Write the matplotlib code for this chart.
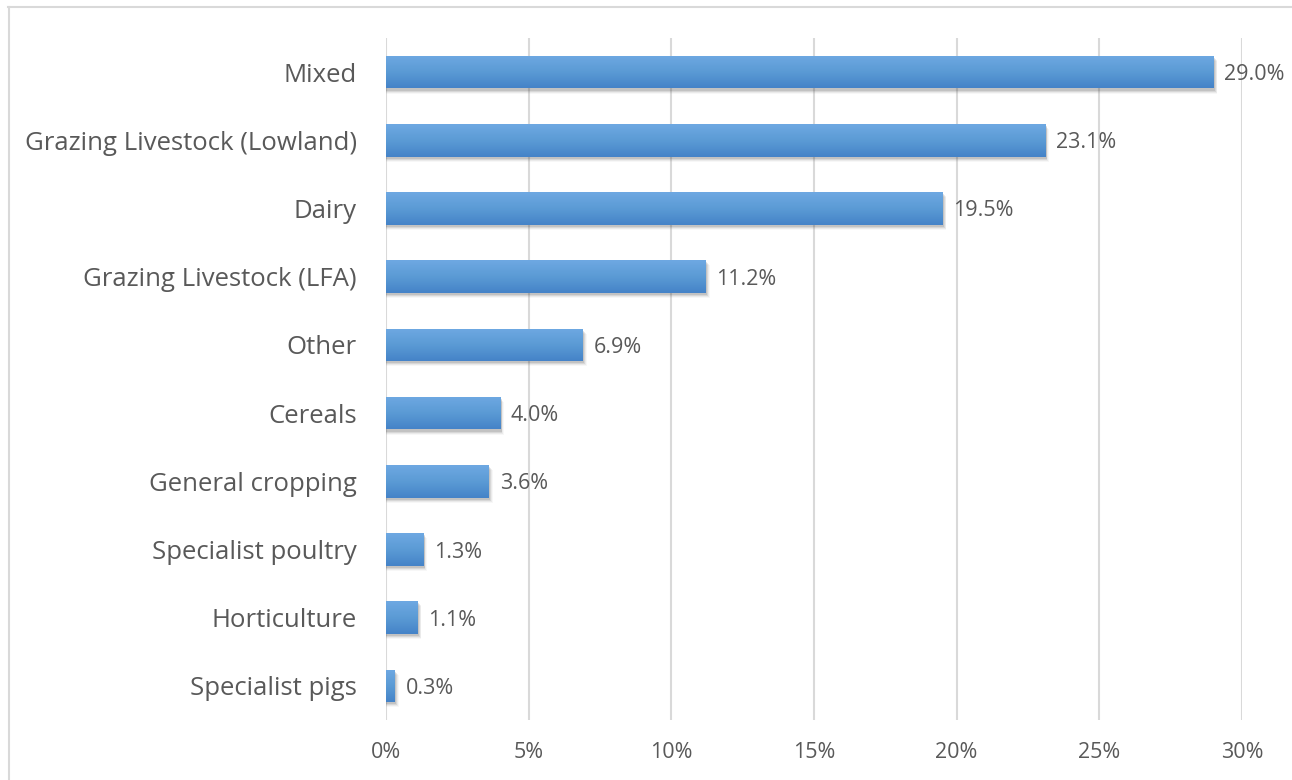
import numpy as np
import matplotlib.pyplot as plt
from matplotlib.colors import LinearSegmentedColormap
from matplotlib.lines import Line2D
from matplotlib.ticker import FuncFormatter

# farm type shares (percent of holdings)
categories = ['Mixed', 'Grazing Livestock (Lowland)', 'Dairy', 'Grazing Livestock (LFA)',
              'Other', 'Cereals', 'General cropping', 'Specialist poultry',
              'Horticulture', 'Specialist pigs']
shares = [29.0, 23.1, 19.5, 11.2, 6.9, 4.0, 3.6, 1.3, 1.1, 0.3]
xticks = [0, 5, 10, 15, 20, 25, 30]

plt.rcParams['font.family'] = ['Open Sans', 'DejaVu Sans']
txt = '#595959'

fig = plt.figure(figsize=(12.92, 7.8), dpi=100)
ax = fig.add_axes([386 / 1292, 1 - 720 / 780, (1242 - 386) / 1292, (720 - 38) / 780])

# chart frame (runs off the right and bottom edges)
fig.add_artist(Line2D([8 / 1292, 1.0], [1 - 7 / 780] * 2, color='#d9d9d9', lw=1.5))
fig.add_artist(Line2D([9 / 1292] * 2, [0.0, 1 - 7 / 780], color='#d9d9d9', lw=1.5))

ypos = np.arange(len(categories))
h = 0.48

grad = LinearSegmentedColormap.from_list('bar', ['#6ea8e2', '#5b9bd5', '#4583c8'])
gimg = np.linspace(0, 1, 64).reshape(-1, 1)

for y, v in zip(ypos, shares):
    # soft drop shadow
    for k, a in enumerate([0.14, 0.10, 0.07, 0.04]):
        ax.barh(y + 0.03 + k * 0.015, v + 0.05 + k * 0.03, height=h, left=0,
                color='#404040', alpha=a, lw=0, zorder=2)
    bar = ax.barh(y, v, height=h, color='none', lw=0, zorder=3)[0]
    im = ax.imshow(gimg, cmap=grad, aspect='auto', zorder=4,
                   extent=[0, v, y + h / 2, y - h / 2], interpolation='bilinear')
    im.set_clip_path(bar)
    ax.text(v + 0.38, y, f'{v:.1f}%', va='center_baseline', ha='left', fontsize=15.5,
            color=txt, zorder=5)

ax.set_xlim(0, 30)
ax.set_ylim(len(categories) - 0.5, -0.5)
ax.set_xticks(xticks)
ax.xaxis.set_major_formatter(FuncFormatter(lambda x, p: f'{x:.0f}%'))
ax.set_yticks(ypos)
ax.set_yticklabels(categories)
ax.grid(axis='x', color='#d9d9d9', lw=1.5, zorder=0)
ax.set_axisbelow(True)
for s in ax.spines.values():
    s.set_visible(False)
ax.tick_params(axis='both', length=0, colors=txt)
ax.tick_params(axis='y', labelsize=18.5, pad=21)
ax.tick_params(axis='x', labelsize=15.5, pad=16)

fig.savefig('out.png', dpi=100, facecolor='white')
